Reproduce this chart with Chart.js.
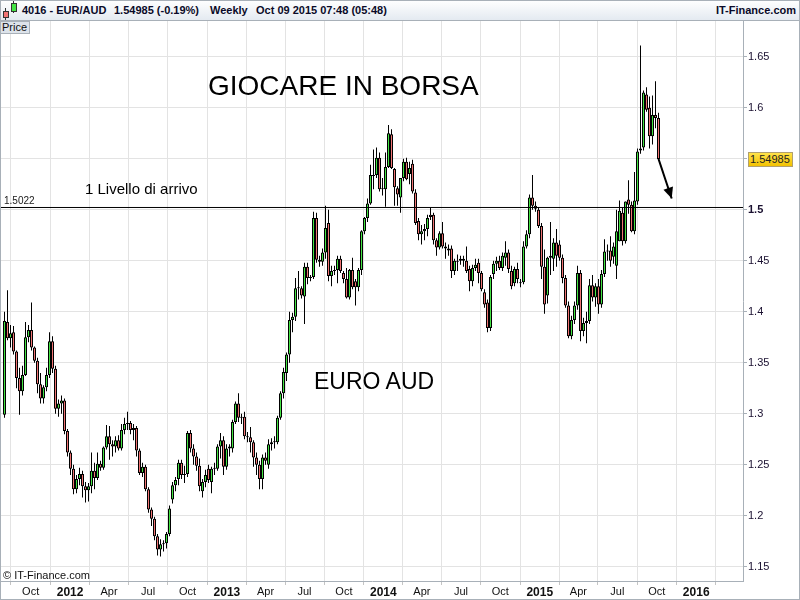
<!DOCTYPE html>
<html>
<head>
<meta charset="utf-8">
<title>EUR/AUD Weekly</title>
<script src="https://cdn.jsdelivr.net/npm/chart.js@4.4.1/dist/chart.umd.min.js"></script>
<style>
  body { margin: 0; background: #fff; font-family: "Liberation Sans", Arial, sans-serif; }
  #wrap { position: relative; width: 800px; height: 600px; overflow: hidden; }
  #chart { position: absolute; left: 0; top: 0; }
  #frame { position: absolute; left: 0; top: 0; width: 798px; height: 598px; border: 1px solid #a8b0b8; pointer-events: none; }
  #hdr { position: absolute; left: 0; top: 0; width: 800px; height: 20px; background: linear-gradient(#ffffff, #e4eaf1); border-bottom: 1px solid #a8b0b8; }
  .h { position: absolute; top: 5px; font: bold 11px "Liberation Sans", Arial, sans-serif; color: #0a0a28; line-height: 11px; white-space: nowrap; }
  .ic { position: absolute; border: 1px solid #333; }
  .wk { position: absolute; width: 1px; background: #333; }
  #price { position: absolute; left: 0; top: 21px; width: 27px; height: 11px; background: #dde3ea; border: 1px solid #a8b0b8; font: 11px "Liberation Sans", Arial, sans-serif; line-height: 11px; padding-left: 1px; color: #111; }
  .t { position: absolute; font-family: "Liberation Sans", Arial, sans-serif; color: #000; line-height: 1; white-space: nowrap; }
  #tag { position: absolute; left: 748px; top: 152px; width: 42px; height: 13px; background: linear-gradient(#ffe24a, #f3c200); border: 1px solid #b0a070; font: 11px "Liberation Sans", Arial, sans-serif; line-height: 13px; padding-left: 1px; color: #222; }
</style>
</head>
<body>
<div id="wrap">
  <canvas id="chart" width="800" height="600"></canvas>
  <div id="hdr">
    <div class="wk" style="left:5px;top:8px;height:12px"></div>
    <div class="ic" style="left:3px;top:11px;width:4px;height:5px;background:#f07474"></div>
    <div class="wk" style="left:13px;top:1px;height:12px"></div>
    <div class="ic" style="left:11px;top:3px;width:4px;height:7px;background:#44e444"></div>
    <span class="h" style="left:22px">4016 - EUR/AUD</span>
    <span class="h" style="left:114px">1.54985 (-0.19%)</span>
    <span class="h" style="left:210px">Weekly</span>
    <span class="h" style="left:256px">Oct 09 2015 07:48 (05:48)</span>
    <span class="h" style="right:4px">IT-Finance.com</span>
  </div>
  <div id="price">Price</div>
  <div class="t" style="left:208px;top:72px;font-size:28px">GIOCARE IN BORSA</div>
  <div class="t" style="left:85px;top:181px;font-size:15px">1 Livello di arrivo</div>
  <div class="t" style="left:4px;top:196px;font-size:10px;color:#202020">1.5022</div>
  <div class="t" style="left:314px;top:370px;font-size:23px">EURO AUD</div>
  <div class="t" style="left:3px;top:570px;font-size:11px;color:#111">© IT-Finance.com</div>
  <div id="tag">1.54985</div>
  <div id="frame"></div>
</div>
<script>
// weekly candles, first one = week of 1 Aug 2011, last one = week of 5 Oct 2015
const opens = [
  1.299, 1.390, 1.374, 1.380, 1.361, 1.335, 1.322, 1.338, 1.375, 1.382,
  1.365, 1.352, 1.329, 1.315, 1.326, 1.338, 1.371, 1.344, 1.305, 1.310,
  1.313, 1.283, 1.262, 1.246, 1.226, 1.236, 1.241, 1.229, 1.225, 1.229,
  1.244, 1.237, 1.251, 1.247, 1.267, 1.278, 1.270, 1.268, 1.274, 1.266,
  1.284, 1.290, 1.291, 1.284, 1.286, 1.264, 1.242, 1.248, 1.226, 1.206,
  1.197, 1.180, 1.167, 1.172, 1.173, 1.182, 1.216, 1.230, 1.236, 1.252,
  1.240, 1.241, 1.281, 1.266, 1.258, 1.249, 1.224, 1.233, 1.246, 1.233,
  1.246, 1.246, 1.268, 1.274, 1.248, 1.266, 1.266, 1.292, 1.310, 1.296,
  1.297, 1.278, 1.277, 1.272, 1.257, 1.250, 1.236, 1.257, 1.250, 1.270,
  1.272, 1.272, 1.296, 1.320, 1.340, 1.358, 1.392, 1.395, 1.423, 1.423,
  1.415, 1.444, 1.433, 1.434, 1.492, 1.451, 1.449, 1.458, 1.487, 1.435,
  1.440, 1.441, 1.452, 1.438, 1.432, 1.414, 1.441, 1.430, 1.424, 1.441,
  1.479, 1.492, 1.506, 1.533, 1.534, 1.551, 1.521, 1.520, 1.542, 1.574,
  1.540, 1.521, 1.512, 1.531, 1.547, 1.535, 1.545, 1.517, 1.489, 1.476,
  1.479, 1.481, 1.495, 1.495, 1.470, 1.463, 1.477, 1.464, 1.462, 1.462,
  1.440, 1.449, 1.450, 1.452, 1.450, 1.442, 1.430, 1.443, 1.448, 1.438,
  1.419, 1.409, 1.384, 1.437, 1.447, 1.450, 1.443, 1.453, 1.458, 1.440,
  1.428, 1.442, 1.428, 1.429, 1.464, 1.476, 1.512, 1.504, 1.500, 1.484,
  1.444, 1.416, 1.453, 1.452, 1.468, 1.466, 1.453, 1.433, 1.406, 1.376,
  1.392, 1.406, 1.438, 1.381, 1.389, 1.391, 1.426, 1.414, 1.425, 1.407,
  1.437, 1.459, 1.460, 1.454, 1.445, 1.469, 1.497, 1.469, 1.510, 1.505,
  1.479, 1.508, 1.558, 1.561, 1.613, 1.600, 1.572, 1.593, 1.590
];
const highs = [
  1.400, 1.421, 1.387, 1.386, 1.362, 1.345, 1.347, 1.390, 1.387, 1.409,
  1.366, 1.355, 1.340, 1.328, 1.345, 1.380, 1.376, 1.347, 1.314, 1.318,
  1.315, 1.285, 1.264, 1.250, 1.240, 1.247, 1.244, 1.233, 1.232, 1.262,
  1.252, 1.262, 1.254, 1.268, 1.289, 1.288, 1.274, 1.278, 1.279, 1.290,
  1.296, 1.302, 1.293, 1.290, 1.288, 1.266, 1.252, 1.250, 1.228, 1.208,
  1.199, 1.182, 1.177, 1.176, 1.184, 1.210, 1.233, 1.238, 1.255, 1.255,
  1.249, 1.283, 1.284, 1.270, 1.262, 1.256, 1.236, 1.245, 1.250, 1.248,
  1.252, 1.270, 1.281, 1.278, 1.270, 1.270, 1.294, 1.312, 1.320, 1.300,
  1.302, 1.282, 1.287, 1.274, 1.262, 1.254, 1.260, 1.262, 1.275, 1.276,
  1.278, 1.298, 1.322, 1.345, 1.360, 1.400, 1.399, 1.433, 1.440, 1.425,
  1.448, 1.448, 1.436, 1.498, 1.497, 1.455, 1.462, 1.504, 1.500, 1.445,
  1.445, 1.455, 1.455, 1.440, 1.443, 1.442, 1.453, 1.432, 1.443, 1.480,
  1.493, 1.511, 1.544, 1.559, 1.561, 1.556, 1.531, 1.556, 1.583, 1.579,
  1.541, 1.523, 1.531, 1.550, 1.551, 1.547, 1.549, 1.520, 1.492, 1.485,
  1.486, 1.495, 1.502, 1.497, 1.472, 1.479, 1.488, 1.468, 1.466, 1.465,
  1.452, 1.456, 1.455, 1.455, 1.464, 1.445, 1.446, 1.452, 1.452, 1.440,
  1.422, 1.412, 1.436, 1.450, 1.454, 1.455, 1.458, 1.469, 1.461, 1.445,
  1.444, 1.448, 1.432, 1.469, 1.480, 1.515, 1.534, 1.508, 1.502, 1.487,
  1.461, 1.454, 1.488, 1.472, 1.481, 1.470, 1.456, 1.436, 1.410, 1.396,
  1.410, 1.445, 1.441, 1.394, 1.400, 1.432, 1.436, 1.428, 1.432, 1.441,
  1.471, 1.466, 1.474, 1.468, 1.500, 1.509, 1.502, 1.508, 1.529, 1.508,
  1.537, 1.560, 1.661, 1.617, 1.620, 1.611, 1.612, 1.626, 1.595
];
const lows = [
  1.296, 1.372, 1.365, 1.358, 1.325, 1.299, 1.318, 1.337, 1.370, 1.362,
  1.350, 1.320, 1.310, 1.310, 1.322, 1.335, 1.340, 1.300, 1.297, 1.300,
  1.280, 1.258, 1.240, 1.221, 1.222, 1.230, 1.218, 1.213, 1.214, 1.222,
  1.226, 1.235, 1.244, 1.245, 1.265, 1.255, 1.258, 1.262, 1.264, 1.264,
  1.280, 1.284, 1.280, 1.274, 1.258, 1.240, 1.238, 1.224, 1.203, 1.190,
  1.176, 1.161, 1.160, 1.165, 1.168, 1.180, 1.212, 1.224, 1.230, 1.236,
  1.232, 1.238, 1.262, 1.250, 1.244, 1.224, 1.218, 1.228, 1.232, 1.222,
  1.240, 1.244, 1.256, 1.240, 1.245, 1.258, 1.262, 1.290, 1.292, 1.290,
  1.275, 1.272, 1.262, 1.248, 1.240, 1.226, 1.226, 1.250, 1.246, 1.264,
  1.266, 1.270, 1.294, 1.315, 1.332, 1.350, 1.380, 1.391, 1.412, 1.413,
  1.388, 1.427, 1.430, 1.432, 1.448, 1.444, 1.445, 1.452, 1.430, 1.425,
  1.436, 1.428, 1.438, 1.428, 1.413, 1.412, 1.422, 1.406, 1.420, 1.436,
  1.476, 1.488, 1.505, 1.520, 1.531, 1.518, 1.514, 1.503, 1.541, 1.540,
  1.504, 1.504, 1.497, 1.528, 1.529, 1.525, 1.516, 1.485, 1.470, 1.466,
  1.470, 1.474, 1.490, 1.466, 1.455, 1.461, 1.462, 1.452, 1.455, 1.433,
  1.436, 1.440, 1.446, 1.444, 1.438, 1.420, 1.425, 1.440, 1.428, 1.420,
  1.404, 1.380, 1.381, 1.432, 1.440, 1.441, 1.440, 1.445, 1.438, 1.422,
  1.425, 1.428, 1.424, 1.427, 1.462, 1.472, 1.500, 1.498, 1.482, 1.432,
  1.398, 1.408, 1.436, 1.440, 1.444, 1.450, 1.428, 1.404, 1.374, 1.373,
  1.388, 1.402, 1.371, 1.376, 1.369, 1.388, 1.410, 1.405, 1.398, 1.404,
  1.434, 1.450, 1.444, 1.447, 1.432, 1.469, 1.465, 1.467, 1.496, 1.478,
  1.476, 1.505, 1.555, 1.558, 1.596, 1.560, 1.564, 1.580, 1.548
];
const closes = [
  1.391, 1.374, 1.379, 1.361, 1.335, 1.322, 1.338, 1.375, 1.382, 1.365,
  1.352, 1.329, 1.315, 1.326, 1.338, 1.371, 1.344, 1.305, 1.310, 1.313,
  1.283, 1.262, 1.246, 1.226, 1.236, 1.241, 1.229, 1.225, 1.229, 1.244,
  1.237, 1.251, 1.247, 1.267, 1.278, 1.270, 1.268, 1.274, 1.266, 1.284,
  1.290, 1.291, 1.284, 1.286, 1.264, 1.242, 1.248, 1.226, 1.206, 1.197,
  1.180, 1.167, 1.172, 1.173, 1.182, 1.207, 1.230, 1.235, 1.252, 1.240,
  1.241, 1.281, 1.266, 1.258, 1.249, 1.229, 1.233, 1.240, 1.235, 1.246,
  1.247, 1.268, 1.274, 1.248, 1.266, 1.268, 1.292, 1.310, 1.296, 1.297,
  1.278, 1.277, 1.272, 1.257, 1.250, 1.236, 1.257, 1.254, 1.270, 1.272,
  1.273, 1.296, 1.320, 1.341, 1.358, 1.392, 1.395, 1.423, 1.424, 1.416,
  1.444, 1.433, 1.434, 1.492, 1.451, 1.449, 1.458, 1.482, 1.435, 1.440,
  1.441, 1.452, 1.440, 1.432, 1.414, 1.441, 1.424, 1.424, 1.441, 1.479,
  1.492, 1.506, 1.534, 1.534, 1.551, 1.520, 1.520, 1.542, 1.575, 1.541,
  1.522, 1.515, 1.531, 1.547, 1.530, 1.541, 1.518, 1.487, 1.476, 1.479,
  1.481, 1.492, 1.493, 1.470, 1.463, 1.477, 1.464, 1.462, 1.460, 1.440,
  1.450, 1.450, 1.452, 1.450, 1.440, 1.430, 1.443, 1.446, 1.438, 1.422,
  1.407, 1.384, 1.434, 1.447, 1.450, 1.443, 1.455, 1.458, 1.442, 1.425,
  1.442, 1.432, 1.429, 1.464, 1.476, 1.512, 1.504, 1.501, 1.484, 1.444,
  1.407, 1.453, 1.455, 1.468, 1.455, 1.453, 1.433, 1.406, 1.376, 1.392,
  1.406, 1.438, 1.381, 1.389, 1.391, 1.426, 1.414, 1.425, 1.407, 1.437,
  1.459, 1.460, 1.450, 1.464, 1.479, 1.499, 1.469, 1.508, 1.505, 1.479,
  1.509, 1.557, 1.560, 1.615, 1.598, 1.572, 1.593, 1.590, 1.54985
];

const tickLabels = ['Oct', '2012', 'Apr', 'Jul', 'Oct', '2013', 'Apr', 'Jul', 'Oct',
  '2014', 'Apr', 'Jul', 'Oct', '2015', 'Apr', 'Jul', 'Oct', '2016'];
const tickDates = ['2011-10-01', '2012-01-01', '2012-04-01', '2012-07-01', '2012-10-01',
  '2013-01-01', '2013-04-01', '2013-07-01', '2013-10-01', '2014-01-01', '2014-04-01',
  '2014-07-01', '2014-10-01', '2015-01-01', '2015-04-01', '2015-07-01', '2015-10-01', '2016-01-01'];
const priceTicks = [1.15, 1.2, 1.25, 1.3, 1.35, 1.4, 1.45, 1.5, 1.55, 1.6, 1.65];
const priceLabels = ['1.15', '1.2', '1.25', '1.3', '1.35', '1.4', '1.45', '1.5', '1.55', '1.6', '1.65'];

const targetLevel = 1.5022;
const arrowFrom = { x: 218, y: 1.54985 };
const arrowTo = { x: 222.4, y: 1.511 };

const GREEN = '#44e444';
const RED = '#f07474';
const firstWeek = Date.UTC(2011, 7, 1);
const tickPos = tickDates.map(d => (Date.parse(d) - firstWeek) / (7 * 864e5));

const bodies = closes.map((c, i) => ({ x: i, y: [opens[i], c] }));
const wicks = closes.map((c, i) => ({ x: i, y: [lows[i], highs[i]] }));
const bodyColors = closes.map((c, i) => c >= opens[i] ? GREEN : RED);

const arrowHead = {
  id: 'arrowHead',
  afterDatasetsDraw(chart) {
    const pts = chart.getDatasetMeta(0).data;
    const a = pts[0], b = pts[1];
    const ang = Math.atan2(b.y - a.y, b.x - a.x);
    const c = chart.ctx;
    const len = 11, half = 5;
    c.save();
    c.fillStyle = '#000';
    c.beginPath();
    c.moveTo(b.x, b.y);
    c.lineTo(b.x - len * Math.cos(ang) + half * Math.sin(ang), b.y - len * Math.sin(ang) - half * Math.cos(ang));
    c.lineTo(b.x - len * Math.cos(ang) - half * Math.sin(ang), b.y - len * Math.sin(ang) + half * Math.cos(ang));
    c.closePath();
    c.fill();
    c.restore();
  }
};

new Chart(document.getElementById('chart'), {
  type: 'bar',
  data: {
    datasets: [
      {
        type: 'line',
        data: [arrowFrom, arrowTo],
        borderColor: '#000',
        borderWidth: 2,
        pointRadius: 0
      },
      {
        type: 'line',
        data: [{ x: -5, y: targetLevel }, { x: 260, y: targetLevel }],
        borderColor: '#000',
        borderWidth: 1,
        pointRadius: 0
      },
      {
        data: bodies,
        backgroundColor: bodyColors,
        borderColor: '#000',
        borderWidth: 1,
        borderSkipped: false,
        barThickness: 3,
        minBarLength: 1,
        inflateAmount: 0,
        grouped: false
      },
      {
        data: wicks,
        backgroundColor: '#000',
        borderWidth: 0,
        barThickness: 1,
        inflateAmount: 0,
        grouped: false
      }
    ]
  },
  options: {
    responsive: false,
    animation: false,
    events: [],
    layout: { padding: { left: 1, top: 21, right: 0, bottom: 0 } },
    plugins: { legend: { display: false }, tooltip: { enabled: false } },
    scales: {
      x: {
        type: 'linear',
        min: -1.1667,
        max: 246.1667,
        offset: false,
        afterBuildTicks: s => { s.ticks = tickPos.map(v => ({ value: v })); },
        afterFit: s => { s.height = 19; },
        grid: { color: '#e3e3e3', tickColor: '#c4c4c4', tickLength: 4 },
        border: { color: '#a8b0b8' },
        ticks: {
          autoSkip: false,
          maxRotation: 0,
          padding: 0,
          color: '#111',
          font: ctx => /^\d{4}$/.test(tickLabels[ctx.index])
            ? { family: '"Liberation Sans", Arial, sans-serif', size: 12, weight: 'bold' }
            : { family: '"Liberation Sans", Arial, sans-serif', size: 11 },
          callback: (v, i) => tickLabels[i]
        }
      },
      y: {
        position: 'right',
        min: 1.13602,
        max: 1.68504,
        afterBuildTicks: s => { s.ticks = priceTicks.map(v => ({ value: v })); },
        afterFit: s => { s.width = 57; },
        grid: { color: '#e3e3e3', tickColor: '#a8b0b8', tickLength: 4 },
        border: { color: '#a8b0b8' },
        ticks: {
          autoSkip: false,
          padding: 1,
          color: '#1a1030',
          font: ctx => priceLabels[ctx.index] === '1.5'
            ? { family: '"Liberation Sans", Arial, sans-serif', size: 11, weight: 'bold' }
            : { family: '"Liberation Sans", Arial, sans-serif', size: 11 },
          callback: (v, i) => priceLabels[i]
        }
      }
    }
  },
  plugins: [arrowHead]
});
</script>
</body>
</html>
